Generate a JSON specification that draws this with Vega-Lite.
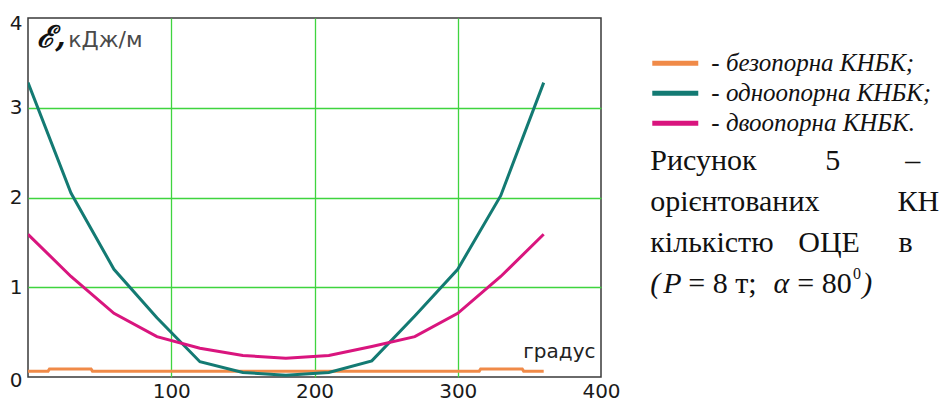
{
  "$schema": "https://vega.github.io/schema/vega-lite/v6.json",
  "width": 573,
  "height": 359,
  "autosize": {"type": "none"},
  "padding": {"left": 28, "top": 18, "right": 346, "bottom": 26},
  "background": "white",
  "config": {
    "view": {"stroke": "#3a3a3a", "strokeWidth": 1.5},
    "axis": {"domain": false, "ticks": false, "gridColor": "#3fd43f", "gridWidth": 1.3, "labelFont": "DejaVu Sans", "labelFontSize": 20, "labelColor": "#1a1a1a", "title": null}
  },
  "datasets": {
    "curves": [
      {"series": "безопорна", "x": 0, "y": 0.065},
      {"series": "безопорна", "x": 14, "y": 0.065},
      {"series": "безопорна", "x": 15, "y": 0.09},
      {"series": "безопорна", "x": 44, "y": 0.09},
      {"series": "безопорна", "x": 45, "y": 0.065},
      {"series": "безопорна", "x": 180, "y": 0.065},
      {"series": "безопорна", "x": 315, "y": 0.065},
      {"series": "безопорна", "x": 316, "y": 0.09},
      {"series": "безопорна", "x": 345, "y": 0.09},
      {"series": "безопорна", "x": 346, "y": 0.065},
      {"series": "безопорна", "x": 360, "y": 0.065},
      {"series": "одноопорна", "x": 0, "y": 3.28},
      {"series": "одноопорна", "x": 30, "y": 2.05},
      {"series": "одноопорна", "x": 60, "y": 1.2},
      {"series": "одноопорна", "x": 90, "y": 0.66},
      {"series": "одноопорна", "x": 120, "y": 0.17},
      {"series": "одноопорна", "x": 150, "y": 0.05},
      {"series": "одноопорна", "x": 180, "y": 0.02},
      {"series": "одноопорна", "x": 210, "y": 0.05},
      {"series": "одноопорна", "x": 240, "y": 0.18},
      {"series": "одноопорна", "x": 270, "y": 0.68},
      {"series": "одноопорна", "x": 300, "y": 1.2},
      {"series": "одноопорна", "x": 330, "y": 2.02},
      {"series": "одноопорна", "x": 360, "y": 3.28},
      {"series": "двоопорна", "x": 0, "y": 1.59},
      {"series": "двоопорна", "x": 30, "y": 1.12},
      {"series": "двоопорна", "x": 60, "y": 0.71},
      {"series": "двоопорна", "x": 90, "y": 0.45},
      {"series": "двоопорна", "x": 120, "y": 0.32},
      {"series": "двоопорна", "x": 150, "y": 0.24},
      {"series": "двоопорна", "x": 180, "y": 0.21},
      {"series": "двоопорна", "x": 210, "y": 0.24},
      {"series": "двоопорна", "x": 240, "y": 0.34},
      {"series": "двоопорна", "x": 270, "y": 0.45},
      {"series": "двоопорна", "x": 300, "y": 0.71},
      {"series": "двоопорна", "x": 330, "y": 1.12},
      {"series": "двоопорна", "x": 360, "y": 1.59}
    ],
    "legend": [
      {"series": "безопорна", "x": 435.8, "x2": 467.9, "tx": 477.0, "y": 3.496, "label": "- безопорна КНБК;"},
      {"series": "одноопорна", "x": 435.8, "x2": 467.9, "tx": 477.0, "y": 3.162, "label": "- одноопорна КНБК;"},
      {"series": "двоопорна", "x": 435.8, "x2": 467.9, "tx": 477.0, "y": 2.828, "label": "- двоопорна КНБК."}
    ],
    "capN": [
      {"x": 434.4, "y": 2.404, "t": "Рисунок"},
      {"x": 556.6, "y": 2.404, "t": "5"},
      {"x": 612.4, "y": 2.404, "t": "–"},
      {"x": 434.4, "y": 1.947, "t": "орієнтованих"},
      {"x": 607.0, "y": 1.947, "t": "КН"},
      {"x": 434.4, "y": 1.49, "t": "кількістю"},
      {"x": 537.7, "y": 1.49, "t": "ОЦЕ"},
      {"x": 607.6, "y": 1.49, "t": "в"},
      {"x": 460.9, "y": 1.033, "t": "= 8 т;"},
      {"x": 537.0, "y": 1.033, "t": "= 80"}
    ],
    "capI": [
      {"x": 434.4, "y": 1.033, "t": "("},
      {"x": 443.5, "y": 1.033, "t": "P"},
      {"x": 520.4, "y": 1.033, "t": "α"},
      {"x": 582.4, "y": 1.033, "t": ")"}
    ],
    "capS": [
      {"x": 576.0, "y": 1.145, "t": "0"}
    ],
    "eps": [{"x": 6.5, "y": 3.675, "t": "ℰ,"}],
    "unit": [{"x": 28.1, "y": 3.675, "t": "кДж/м"}],
    "deg": [{"x": 345.8, "y": 0.209, "t": "градус"}]
  },
  "layer": [
    {
      "data": {"name": "curves"},
      "mark": {"type": "line", "strokeWidth": 3, "clip": true},
      "encoding": {
        "x": {"field": "x", "type": "quantitative", "scale": {"domain": [0, 400], "nice": false},
          "axis": {"values": [100, 200, 300, 400], "labelPadding": 4, "labelFlush": false, "labelOverlap": false,
            "gridOpacity": {"condition": {"test": "datum.value === 400", "value": 0}, "value": 1}}},
        "y": {"field": "y", "type": "quantitative", "scale": {"domain": [0, 4], "nice": false},
          "axis": {"values": [0, 1, 2, 3, 4], "format": "d", "labelPadding": 6, "labelFlush": false, "labelOverlap": false,
            "labelOffset": {"condition": [{"test": "datum.value === 4", "value": 5}, {"test": "datum.value === 0", "value": 3}], "value": 0},
            "gridOpacity": {"condition": {"test": "datum.value === 0 || datum.value === 4", "value": 0}, "value": 1}}},
        "color": {"field": "series", "type": "nominal", "legend": null,
          "scale": {"domain": ["безопорна", "одноопорна", "двоопорна"], "range": ["#f08a48", "#137a73", "#d9157e"]}}
      }
    },
    {
      "data": {"name": "legend"},
      "mark": {"type": "rule", "strokeWidth": 5},
      "encoding": {
        "x": {"field": "x", "type": "quantitative", "scale": {"domain": [0, 400], "nice": false}},
        "x2": {"field": "x2"},
        "y": {"field": "y", "type": "quantitative", "scale": {"domain": [0, 4], "nice": false}},
        "color": {"field": "series", "type": "nominal", "legend": null}
      }
    },
    {
      "data": {"name": "legend"},
      "mark": {"type": "text", "font": "Liberation Serif", "fontStyle": "italic", "fontSize": 25, "align": "left", "baseline": "middle", "color": "#111"},
      "encoding": {
        "x": {"field": "tx", "type": "quantitative", "scale": {"domain": [0, 400], "nice": false}},
        "y": {"field": "y", "type": "quantitative", "scale": {"domain": [0, 4], "nice": false}},
        "text": {"field": "label"}
      }
    },
    {
      "data": {"name": "capN"},
      "mark": {"type": "text", "font": "Liberation Serif", "fontSize": 30, "align": "left", "baseline": "middle", "color": "#111"},
      "encoding": {
        "x": {"field": "x", "type": "quantitative", "scale": {"domain": [0, 400], "nice": false}},
        "y": {"field": "y", "type": "quantitative", "scale": {"domain": [0, 4], "nice": false}},
        "text": {"field": "t"}
      }
    },
    {
      "data": {"name": "capI"},
      "mark": {"type": "text", "font": "Liberation Serif", "fontStyle": "italic", "fontSize": 30, "align": "left", "baseline": "middle", "color": "#111"},
      "encoding": {
        "x": {"field": "x", "type": "quantitative", "scale": {"domain": [0, 400], "nice": false}},
        "y": {"field": "y", "type": "quantitative", "scale": {"domain": [0, 4], "nice": false}},
        "text": {"field": "t"}
      }
    },
    {
      "data": {"name": "capS"},
      "mark": {"type": "text", "font": "Liberation Serif", "fontSize": 16, "align": "left", "baseline": "middle", "color": "#111"},
      "encoding": {
        "x": {"field": "x", "type": "quantitative", "scale": {"domain": [0, 400], "nice": false}},
        "y": {"field": "y", "type": "quantitative", "scale": {"domain": [0, 4], "nice": false}},
        "text": {"field": "t"}
      }
    },
    {
      "data": {"name": "eps"},
      "mark": {"type": "text", "font": "DejaVu Serif", "fontStyle": "italic", "fontWeight": "bold", "fontSize": 30, "align": "left", "baseline": "alphabetic", "color": "#111"},
      "encoding": {
        "x": {"field": "x", "type": "quantitative", "scale": {"domain": [0, 400], "nice": false}},
        "y": {"field": "y", "type": "quantitative", "scale": {"domain": [0, 4], "nice": false}},
        "text": {"field": "t"}
      }
    },
    {
      "data": {"name": "unit"},
      "mark": {"type": "text", "font": "DejaVu Sans", "fontSize": 22, "align": "left", "baseline": "alphabetic", "color": "#4a4a4a"},
      "encoding": {
        "x": {"field": "x", "type": "quantitative", "scale": {"domain": [0, 400], "nice": false}},
        "y": {"field": "y", "type": "quantitative", "scale": {"domain": [0, 4], "nice": false}},
        "text": {"field": "t"}
      }
    },
    {
      "data": {"name": "deg"},
      "mark": {"type": "text", "font": "DejaVu Sans", "fontSize": 20, "align": "left", "baseline": "alphabetic", "color": "#222"},
      "encoding": {
        "x": {"field": "x", "type": "quantitative", "scale": {"domain": [0, 400], "nice": false}},
        "y": {"field": "y", "type": "quantitative", "scale": {"domain": [0, 4], "nice": false}},
        "text": {"field": "t"}
      }
    }
  ]
}
